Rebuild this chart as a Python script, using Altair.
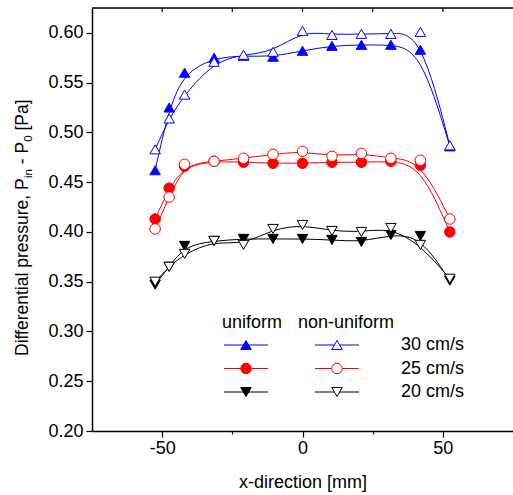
import altair as alt
import pandas as pd

# ---------------- data ----------------
x_mm = [-52.5, -47.5, -42, -31.5, -21, -10.5, 0, 10.5, 21, 31.5, 42, 52.5]
speeds = ["30 cm/s", "25 cm/s", "20 cm/s"]
profiles = ["uniform", "non-uniform"]

uniform_30 = [0.462, 0.525, 0.560, 0.575, 0.577, 0.576, 0.582, 0.587, 0.588, 0.588, 0.583, 0.486]
nonuni_30 = [0.483, 0.514, 0.538, 0.571, 0.578, 0.581, 0.602, 0.598, 0.599, 0.599, 0.601, 0.487]
uniform_25 = [0.413, 0.444, 0.466, 0.471, 0.470, 0.469, 0.469, 0.470, 0.470, 0.471, 0.467, 0.400]
nonuni_25 = [0.403, 0.435, 0.468, 0.471, 0.474, 0.478, 0.481, 0.476, 0.479, 0.474, 0.472, 0.413]
uniform_20 = [0.347, 0.365, 0.386, 0.391, 0.393, 0.393, 0.393, 0.392, 0.390, 0.397, 0.396, 0.351]
nonuni_20 = [0.350, 0.365, 0.378, 0.391, 0.387, 0.403, 0.407, 0.401, 0.400, 0.404, 0.387, 0.353]

x_ticks = [-50, -25, 0, 25, 50]
y_ticks = [0.2, 0.225, 0.25, 0.275, 0.3, 0.325, 0.35, 0.375, 0.4, 0.425,
           0.45, 0.475, 0.5, 0.525, 0.55, 0.575, 0.6]

colors = ["#0000ff", "#ff0000", "#000000"]
shapes = ["triangle-up", "circle", "triangle-down"]

series = {
    ("30 cm/s", "uniform"): uniform_30, ("30 cm/s", "non-uniform"): nonuni_30,
    ("25 cm/s", "uniform"): uniform_25, ("25 cm/s", "non-uniform"): nonuni_25,
    ("20 cm/s", "uniform"): uniform_20, ("20 cm/s", "non-uniform"): nonuni_20,
}
rows = []
for (sp, pr), vals in series.items():
    for xv, yv in zip(x_mm, vals):
        rows.append({"x": xv, "y": yv, "speed": sp, "profile": pr})
df = pd.DataFrame(rows)

FONT = "Liberation Sans"
W, H = 421, 423

xscale = alt.Scale(domain=[-75, 75], nice=False, zero=False)
yscale = alt.Scale(domain=[0.2, 0.625], nice=False, zero=False)
cscale = alt.Scale(domain=speeds, range=colors)
sscale = alt.Scale(domain=speeds, range=shapes)

xaxis = alt.Axis(
    values=x_ticks, title="x-direction [mm]", grid=False,
    labelExpr="datum.value % 50 == 0 ? '' + datum.value : ''",
    tickSize={"condition": {"test": "datum.value % 50 == 0", "value": 6}, "value": 3},
    labelFontSize=18, titleFontSize=18, titleFontWeight="normal",
    labelPadding=2, titlePadding=16, labelColor="black", titleColor="black",
    tickColor="black", domainColor="black", domainWidth=1.5, tickWidth=1.2,
    labelFont=FONT, titleFont=FONT,
)
yaxis = alt.Axis(
    values=y_ticks, title=None, grid=False,
    labelExpr="round(datum.value*1000) % 50 == 0 ? format(datum.value, '.2f') : ''",
    tickSize={"condition": {"test": "round(datum.value*1000) % 50 == 0", "value": 6}, "value": 3},
    labelFontSize=18, labelPadding=3, labelColor="black",
    tickColor="black", domainColor="black", domainWidth=1.5, tickWidth=1.2,
    labelFont=FONT,
)

base = alt.Chart(df)
lines = base.mark_line(interpolate="basis", strokeWidth=1).encode(
    x=alt.X("x:Q", scale=xscale, axis=xaxis),
    y=alt.Y("y:Q", scale=yscale, axis=yaxis),
    color=alt.Color("speed:N", scale=cscale, legend=None),
    detail="profile:N",
)
filled_pts = base.transform_filter(alt.datum.profile == "uniform").mark_point(
    filled=True, size=110, opacity=1, strokeWidth=1
).encode(
    x="x:Q", y="y:Q",
    shape=alt.Shape("speed:N", scale=sscale, legend=None),
    fill=alt.Fill("speed:N", scale=cscale, legend=None),
    stroke=alt.Stroke("speed:N", scale=cscale, legend=None),
)
open_pts = base.transform_filter(alt.datum.profile == "non-uniform").mark_point(
    filled=True, fill="white", size=110, opacity=1, strokeWidth=1
).encode(
    x="x:Q", y="y:Q",
    shape=alt.Shape("speed:N", scale=sscale, legend=None),
    stroke=alt.Stroke("speed:N", scale=cscale, legend=None),
)

top_ticks = alt.Chart(pd.DataFrame({"x": x_ticks})).mark_rule(
    color="black", strokeWidth=1.2
).encode(x=alt.X("x:Q", scale=xscale), y=alt.value(0), y2=alt.value(4))

one = pd.DataFrame({"k": [0]})
top_border = alt.Chart(one).mark_rule(color="black", strokeWidth=1.5).encode(
    x=alt.value(0), x2=alt.value(W), y=alt.value(0)
)
layers = [lines, filled_pts, open_pts, top_ticks, top_border]

# ---------- y-axis title with subscripts (rotated text pieces) ----------
F, FS = 17.5, 11.5
SP = 0.278 * F
# (text, font size, width in em, gap before in px, baseline shift)
pieces = [("Differential pressure, P", F, 10.17, 0.0, 0.0),
          ("in", FS, 0.778, 0.0, 3.5),
          ("- P", F, 1.278, SP, 0.0),
          ("0", FS, 0.556, 0.0, 3.5),
          ("[Pa]", F, 1.779, SP, 0.0)]
ty = 348.0
tx = -64.0
for txt, fs, em, gap, shift in pieces:
    ty -= gap
    layers.append(
        alt.Chart(one).mark_text(
            text=txt, angle=270, align="left", baseline="alphabetic",
            fontSize=fs, font=FONT, color="black"
        ).encode(x=alt.value(tx + shift), y=alt.value(ty))
    )
    ty -= em * fs

# ---------------- legend ----------------
LEG_COL_X = [154, 245]
LEG_HALF = 22
LEG_Y0 = 337
LEG_DY = 23.5
LEG_LABEL_X = 309
LEG_HEAD_Y = 315
for j, pr in enumerate(profiles):
    layers.append(
        alt.Chart(one).mark_text(
            text=pr, align="center", baseline="middle", fontSize=18, font=FONT, color="black"
        ).encode(x=alt.value(LEG_COL_X[j] + (6 if j == 0 else 9)), y=alt.value(LEG_HEAD_Y))
    )
for i, sp in enumerate(speeds):
    yy = LEG_Y0 + i * LEG_DY
    for j, pr in enumerate(profiles):
        cx = LEG_COL_X[j]
        layers.append(
            alt.Chart(one).mark_rule(color=colors[i], strokeWidth=1).encode(
                x=alt.value(cx - LEG_HALF), x2=alt.value(cx + LEG_HALF), y=alt.value(yy)
            )
        )
        layers.append(
            alt.Chart(one).mark_point(
                shape=shapes[i], size=110, filled=True, opacity=1, strokeWidth=1,
                fill=colors[i] if pr == "uniform" else "white", stroke=colors[i]
            ).encode(x=alt.value(cx), y=alt.value(yy))
        )
    layers.append(
        alt.Chart(one).mark_text(
            text=sp, align="left", baseline="middle", fontSize=18, font=FONT, color="black"
        ).encode(x=alt.value(LEG_LABEL_X), y=alt.value(yy))
    )

chart = alt.layer(*layers).properties(
    width=W, height=H,
    padding={"left": 92, "top": 8, "right": 0, "bottom": 64},
    autosize=alt.AutoSizeParams(type="none"),
    background="white",
).configure_view(stroke=None).configure(font=FONT)

chart.save("out.html", embed_options={"renderer": "svg", "actions": False})
